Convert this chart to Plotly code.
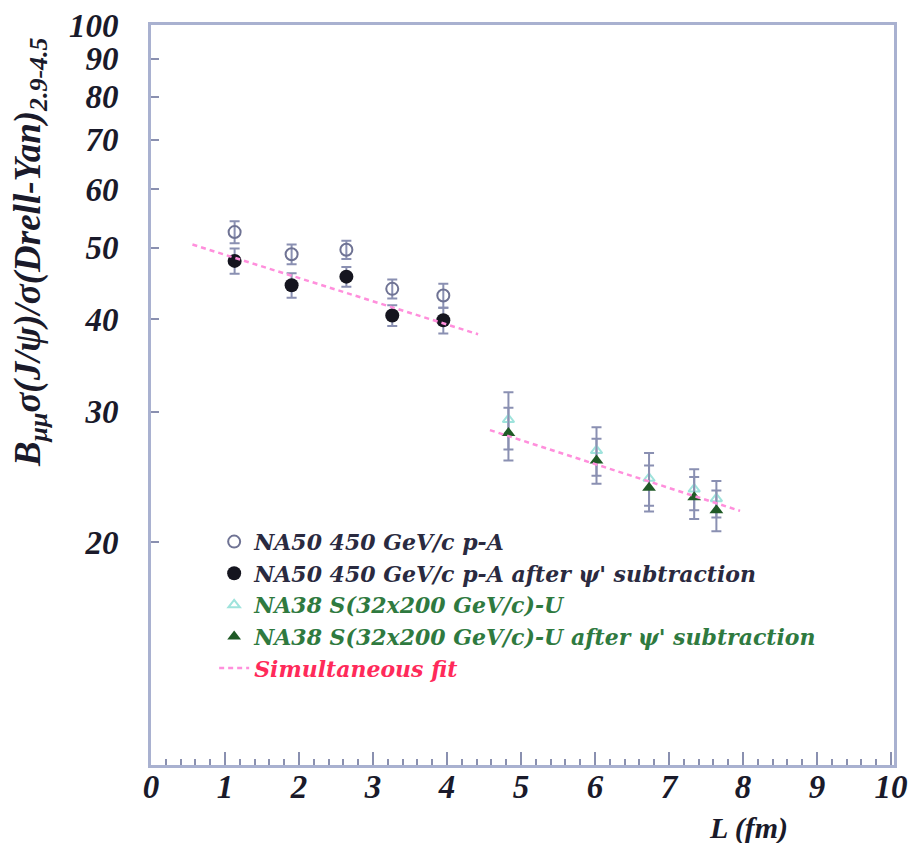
import plotly.graph_objects as go

# NA50 450 GeV/c p-A: path length L (fm), ratio before / after psi' subtraction
na50_L = [1.13, 1.90, 2.64, 3.26, 3.95]
na50_raw = [52.5, 49.0, 49.7, 44.0, 43.1]
na50_raw_err = [1.8, 1.5, 1.4, 1.3, 1.6]
na50_sub = [48.0, 44.5, 45.7, 40.5, 39.9]
na50_sub_err = [1.9, 1.7, 1.4, 1.3, 1.6]

# NA38 S(32x200 GeV/c)-U
na38_L = [4.83, 6.02, 6.73, 7.34, 7.64]
na38_raw = [29.3, 26.6, 24.4, 23.6, 22.9]
na38_raw_err = [2.6, 2.0, 2.0, 1.5, 1.3]
na38_sub = [28.1, 25.8, 23.7, 23.0, 22.1]
na38_sub_err = [2.3, 1.8, 1.7, 1.5, 1.4]

# Simultaneous fit, two segments (endpoints)
fit_L = [0.56, 4.42, None, 4.58, 7.96]
fit_val = [50.5, 38.2, None, 28.35, 22.05]

y_ticks = [20, 30, 40, 50, 60, 70, 80, 90, 100]
x_ticks = list(range(0, 11))

SERIF = "Liberation Serif"
LEGEND_FONT = "DejaVu Serif"
ERR_COLOR = "#8a90b2"
AXIS_COLOR = "#a9b1d0"
DARK = "#2a2a40"
GREEN = "#2f7a3f"
RED = "#ff2a5a"


def err(vals):
    return dict(type="data", array=vals, visible=True, color=ERR_COLOR,
                thickness=2, width=5)


def coloured(text, colour):
    return f"<span style='color:{colour}'>{text}</span>"


fig = go.Figure()

fig.add_trace(go.Scatter(
    x=na50_L, y=na50_raw, mode="markers", error_y=err(na50_raw_err),
    name=coloured("NA50 450 GeV/c p-A", DARK),
    marker=dict(symbol="circle-open", size=12, color="#6f7394",
                line=dict(width=2, color="#6f7394")),
))
fig.add_trace(go.Scatter(
    x=na50_L, y=na50_sub, mode="markers", error_y=err(na50_sub_err),
    name=coloured("NA50 450 GeV/c p-A after ψ' subtraction", DARK),
    marker=dict(symbol="circle", size=14, color="#15151f"),
))
fig.add_trace(go.Scatter(
    x=na38_L, y=na38_raw, mode="markers", error_y=err(na38_raw_err),
    name=coloured("NA38 S(32x200 GeV/c)-U", GREEN),
    marker=dict(symbol="triangle-up-open", size=10, color="#9fe3dc",
                line=dict(width=2, color="#9fe3dc")),
))
fig.add_trace(go.Scatter(
    x=na38_L, y=na38_sub, mode="markers", error_y=err(na38_sub_err),
    name=coloured("NA38 S(32x200 GeV/c)-U after ψ' subtraction", GREEN),
    marker=dict(symbol="triangle-up", size=12, color="#1f5a26"),
))
fig.add_trace(go.Scatter(
    x=fit_L, y=fit_val, mode="lines", connectgaps=False,
    name=coloured("Simultaneous fit", RED),
    line=dict(color="#ff8fdc", width=2.5, dash="5px,4px"),
))

axis_font = dict(family=SERIF, size=33, style="italic", weight="bold",
                 color="#1a1a2a")

fig.update_layout(
    width=911, height=843,
    margin=dict(l=151, r=17, t=25, b=78),
    paper_bgcolor="white", plot_bgcolor="white",
    showlegend=True,
    legend=dict(
        x=0.085, y=0.330, xanchor="left", yanchor="top",
        bgcolor="rgba(0,0,0,0)",
        font=dict(family=LEGEND_FONT, size=22, style="italic", weight="bold",
                  color=DARK),
        itemwidth=30,
    ),
    xaxis=dict(
        range=[0, 10.04], tickvals=x_ticks, ticktext=[str(v) for v in x_ticks],
        ticks="inside", ticklen=13, tickwidth=2, tickcolor="#8a90b0",
        minor=dict(dtick=0.2, ticks="inside", ticklen=6, tickwidth=2,
                   tickcolor="#8a90b0"),
        showline=True, linecolor=AXIS_COLOR, linewidth=3, mirror=True,
        showgrid=False, zeroline=False, automargin=False,
        tickfont=axis_font, ticklabelstandoff=-10,
    ),
    yaxis=dict(
        type="log", range=[1, 2],
        tickvals=y_ticks, ticktext=[str(v) for v in y_ticks],
        ticks="inside", ticklen=8, tickwidth=2, tickcolor="#8a90b0",
        showline=True, linecolor=AXIS_COLOR, linewidth=3, mirror=True,
        showgrid=False, zeroline=False, automargin=False,
        tickfont=axis_font, ticklabelstandoff=23,
    ),
)

fig.add_annotation(
    text="B<sub>μμ</sub>σ(J/ψ)/σ(Drell-Yan)<sub>2.9-4.5</sub>",
    xref="paper", yref="paper", x=-0.163, y=0.693,
    xanchor="center", yanchor="middle", textangle=-90, showarrow=False,
    font=dict(family=SERIF, size=37, style="italic", weight="bold",
              color="#1a1a2a"),
)
fig.add_annotation(
    text="L (fm)",
    xref="paper", yref="paper", x=0.86, y=-0.085,
    xanchor="right", yanchor="middle", showarrow=False,
    font=dict(family=SERIF, size=30, style="italic", weight="bold",
              color="#1a1a2a"),
)

fig.write_html("out.html")
